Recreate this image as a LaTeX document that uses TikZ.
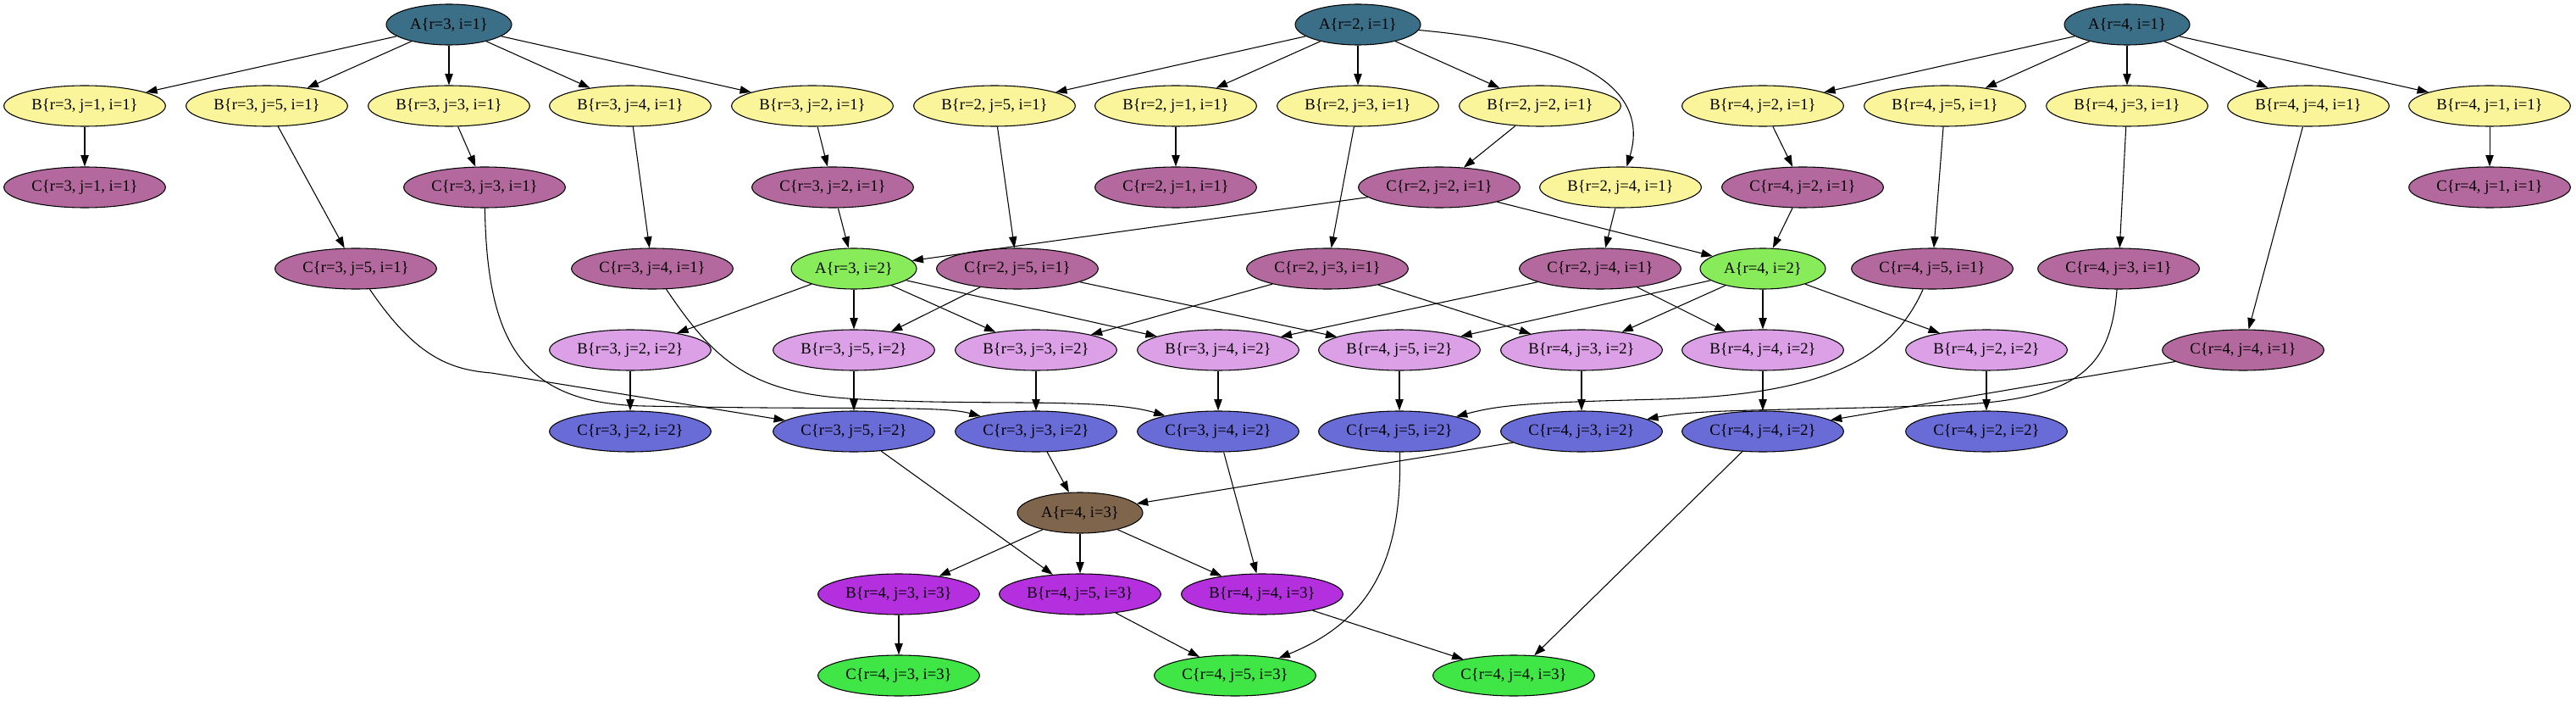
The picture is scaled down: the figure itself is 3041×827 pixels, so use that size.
\documentclass[tikz,border=0pt]{standalone}
\usepackage{fontspec}
\setmainfont{Liberation Serif}
\usetikzlibrary{shapes.geometric,arrows.meta}
\definecolor{cAa}{HTML}{3B6E87}
\definecolor{cBa}{HTML}{FAF59A}
\definecolor{cCa}{HTML}{B4699E}
\definecolor{cAb}{HTML}{87EB5A}
\definecolor{cBb}{HTML}{DCA0E6}
\definecolor{cCb}{HTML}{696BD7}
\definecolor{cAc}{HTML}{7F654C}
\definecolor{cBc}{HTML}{B42FDD}
\definecolor{cCc}{HTML}{3FE645}
\begin{document}
\begin{tikzpicture}[x=0.75pt,y=-0.75pt,
  nd/.style={ellipse, draw=black, line width=0.8pt, inner sep=0pt, minimum height=36pt,
    font=\fontsize{14pt}{16pt}\selectfont},
  aw/.style={nd, minimum width=111pt},
  bw/.style={nd, minimum width=143pt},
  ai1/.style={aw, fill=cAa}, bi1/.style={bw, fill=cBa}, ci1/.style={bw, fill=cCa},
  ai2/.style={aw, fill=cAb}, bi2/.style={bw, fill=cBb}, ci2/.style={bw, fill=cCb},
  ai3/.style={aw, fill=cAc}, bi3/.style={bw, fill=cBc}, ci3/.style={bw, fill=cCc},
  edge/.style={draw, line width=0.8pt, -{Triangle[length=10pt,width=7pt]}}]
\useasboundingbox[fill=white] (0,0) rectangle (3041,827);
% row 1
\node[ai1] (A31) at (530,29) {A\{r=3, i=1\}};
\node[ai1] (A21) at (1603,29) {A\{r=2, i=1\}};
\node[ai1] (A41) at (2511,29) {A\{r=4, i=1\}};
% row 2
\node[bi1] (B311) at (100,125) {B\{r=3, j=1, i=1\}};
\node[bi1] (B351) at (315,125) {B\{r=3, j=5, i=1\}};
\node[bi1] (B331) at (530,125) {B\{r=3, j=3, i=1\}};
\node[bi1] (B341) at (744,125) {B\{r=3, j=4, i=1\}};
\node[bi1] (B321) at (959,125) {B\{r=3, j=2, i=1\}};
\node[bi1] (B251) at (1174,125) {B\{r=2, j=5, i=1\}};
\node[bi1] (B211) at (1388,125) {B\{r=2, j=1, i=1\}};
\node[bi1] (B231) at (1603,125) {B\{r=2, j=3, i=1\}};
\node[bi1] (B221) at (1818,125) {B\{r=2, j=2, i=1\}};
\node[bi1] (B421) at (2081,125) {B\{r=4, j=2, i=1\}};
\node[bi1] (B451) at (2296,125) {B\{r=4, j=5, i=1\}};
\node[bi1] (B431) at (2511,125) {B\{r=4, j=3, i=1\}};
\node[bi1] (B441) at (2725,125) {B\{r=4, j=4, i=1\}};
\node[bi1] (B411) at (2939,125) {B\{r=4, j=1, i=1\}};
% row 3
\node[ci1] (C311) at (100,221) {C\{r=3, j=1, i=1\}};
\node[ci1] (C331) at (572,221) {C\{r=3, j=3, i=1\}};
\node[ci1] (C321) at (983,221) {C\{r=3, j=2, i=1\}};
\node[ci1] (C211) at (1388,221) {C\{r=2, j=1, i=1\}};
\node[ci1] (C221) at (1699,221) {C\{r=2, j=2, i=1\}};
\node[bi1] (B241) at (1913,221) {B\{r=2, j=4, i=1\}};
\node[ci1] (C421) at (2128,221) {C\{r=4, j=2, i=1\}};
\node[ci1] (C411) at (2939,221) {C\{r=4, j=1, i=1\}};
% row 4
\node[ci1] (C351) at (420,317) {C\{r=3, j=5, i=1\}};
\node[ci1] (C341) at (770,317) {C\{r=3, j=4, i=1\}};
\node[ai2] (A32) at (1008,317) {A\{r=3, i=2\}};
\node[ci1] (C251) at (1201,317) {C\{r=2, j=5, i=1\}};
\node[ci1] (C231) at (1567,317) {C\{r=2, j=3, i=1\}};
\node[ci1] (C241) at (1889,317) {C\{r=2, j=4, i=1\}};
\node[ai2] (A42) at (2081,317) {A\{r=4, i=2\}};
\node[ci1] (C451) at (2281,317) {C\{r=4, j=5, i=1\}};
\node[ci1] (C431) at (2501,317) {C\{r=4, j=3, i=1\}};
% row 5
\node[bi2] (B322) at (744,413) {B\{r=3, j=2, i=2\}};
\node[bi2] (B352) at (1008,413) {B\{r=3, j=5, i=2\}};
\node[bi2] (B332) at (1223,413) {B\{r=3, j=3, i=2\}};
\node[bi2] (B342) at (1438,413) {B\{r=3, j=4, i=2\}};
\node[bi2] (B452) at (1652,413) {B\{r=4, j=5, i=2\}};
\node[bi2] (B432) at (1867,413) {B\{r=4, j=3, i=2\}};
\node[bi2] (B442) at (2081,413) {B\{r=4, j=4, i=2\}};
\node[bi2] (B422) at (2345,413) {B\{r=4, j=2, i=2\}};
\node[ci1] (C441) at (2648,413) {C\{r=4, j=4, i=1\}};
% row 6
\node[ci2] (C322) at (744,509) {C\{r=3, j=2, i=2\}};
\node[ci2] (C352) at (1008,509) {C\{r=3, j=5, i=2\}};
\node[ci2] (C332) at (1223,509) {C\{r=3, j=3, i=2\}};
\node[ci2] (C342) at (1438,509) {C\{r=3, j=4, i=2\}};
\node[ci2] (C452) at (1652,509) {C\{r=4, j=5, i=2\}};
\node[ci2] (C432) at (1867,509) {C\{r=4, j=3, i=2\}};
\node[ci2] (C442) at (2081,509) {C\{r=4, j=4, i=2\}};
\node[ci2] (C422) at (2345,509) {C\{r=4, j=2, i=2\}};
% row 7-9
\node[ai3] (A43) at (1275,605) {A\{r=4, i=3\}};
\node[bi3] (B433) at (1061,701) {B\{r=4, j=3, i=3\}};
\node[bi3] (B453) at (1275,701) {B\{r=4, j=5, i=3\}};
\node[bi3] (B443) at (1490,701) {B\{r=4, j=4, i=3\}};
\node[ci3] (C433) at (1061,797) {C\{r=4, j=3, i=3\}};
\node[ci3] (C453) at (1458,797) {C\{r=4, j=5, i=3\}};
\node[ci3] (C443) at (1787,797) {C\{r=4, j=4, i=3\}};
% edges
\foreach \t in {B311,B351,B331,B341,B321} \draw[edge] (A31) -- (\t);
\foreach \t in {B251,B211,B231,B221} \draw[edge] (A21) -- (\t);
\draw[edge] (A21) .. controls (1890,55) and (1945,115) .. (B241);
\foreach \t in {B421,B451,B431,B441,B411} \draw[edge] (A41) -- (\t);
\foreach \s/\t in {B311/C311,B351/C351,B331/C331,B341/C341,B321/C321,
  B251/C251,B211/C211,B231/C231,B221/C221,B241/C241,
  B421/C421,B451/C451,B431/C431,B441/C441,B411/C411,
  C321/A32,C221/A32,C221/A42,C421/A42,
  A32/B322,A32/B352,A32/B332,A32/B342,
  A42/B452,A42/B432,A42/B442,A42/B422,
  C251/B352,C251/B452,C231/B332,C231/B432,C241/B342,C241/B442,
  B322/C322,B352/C352,B332/C332,B342/C342,B452/C452,B432/C432,B442/C442,B422/C422,
  C441/C442,C332/A43,C432/A43,C352/B453,C342/B443,
  A43/B433,A43/B453,A43/B443,B433/C433,B453/C453,B443/C443,C442/C443}
  \draw[edge] (\s) -- (\t);
\draw[edge] (C351) .. controls (490,420) and (530,436) .. (580,440) -- (C352);
\draw[edge] (C331) .. controls (575,410) and (620,476) .. (760,479) .. controls (1000,484) and (1110,478) .. (C332);
\draw[edge] (C341) .. controls (840,420) and (880,462) .. (1000,470) .. controls (1150,480) and (1300,468) .. (C342);
\draw[edge] (C451) .. controls (2235,420) and (2160,466) .. (1960,471) .. controls (1800,475) and (1770,478) .. (C452);
\draw[edge] (C431) .. controls (2492,430) and (2460,472) .. (2300,478) .. controls (2100,485) and (2010,482) .. (C432);
\draw[edge] (C452) .. controls (1655,650) and (1625,730) .. (C453);
\end{tikzpicture}
\end{document}
